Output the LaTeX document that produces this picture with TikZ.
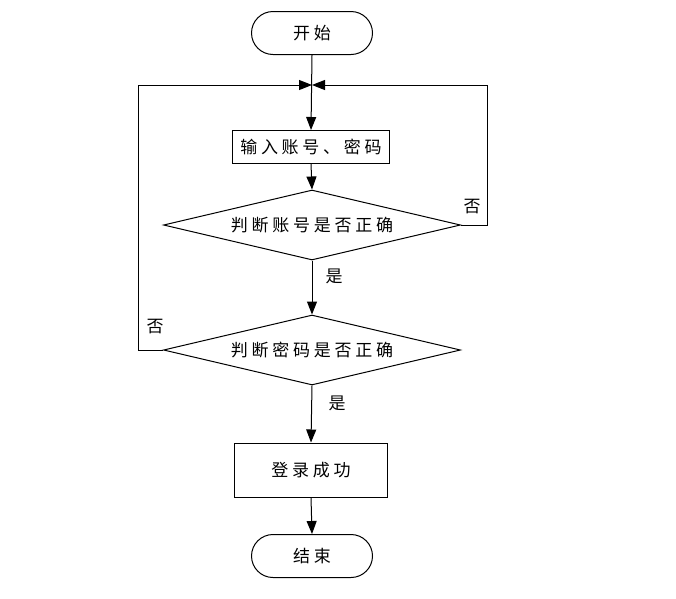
\documentclass[tikz,border=0pt]{standalone}
\usepackage{fontspec}
\setmainfont{Noto Sans CJK SC}[LetterSpace=22]
\usetikzlibrary{shapes.geometric,shapes.misc,arrows.meta}
\tikzset{
  base/.style={draw=black, line width=1pt, font=\fontsize{17}{20}\selectfont, inner sep=0pt},
  term/.style={base, rounded rectangle, minimum width=121pt, minimum height=43pt},
  proc/.style={base, rectangle, minimum width=157pt, minimum height=33pt},
  proc2/.style={base, rectangle, minimum width=153pt, minimum height=54pt},
  dec/.style={base, diamond, aspect=4.24, minimum width=297pt, minimum height=70pt},
  lbl/.style={font=\fontsize{17}{20}\selectfont, inner sep=0pt},
  conn/.style={line width=1pt, -{Triangle[length=13pt,width=10pt]}},
  line/.style={line width=1pt}
}
\begin{document}
\begin{tikzpicture}[x=1pt,y=-1pt]
\useasboundingbox (0,0) rectangle (676,598);
\node[term] (start) at (312,33) {开始};
\node[proc] (input) at (311,147) {输入账号、密码};
\node[dec] (d1) at (312,225) {判断账号是否正确};
\node[dec] (d2) at (312,350) {判断密码是否正确};
\node[proc2] (ok) at (311,470) {登录成功};
\node[term] (end) at (312,556) {结束};
\coordinate (j) at (312,85);
\coordinate (lt) at (138,85);
\coordinate (lb) at (138,350);
\coordinate (rt) at (487,85);
\coordinate (rb) at (487,225);
\draw[conn] (start.south) -- (input.north);
\draw[conn] (input.south) -- (d1.north);
\draw[conn] (d1.south) -- (d2.north);
\draw[conn] (d2.south) -- (ok.north);
\draw[conn] (ok.south) -- (end.north);
\draw[conn] (d2.west) -- (lb) -- (lt) -- (j);
\draw[conn] (d1.east) -- (rb) -- (rt) -- (j);
\node[lbl] (yes1) at (334,276) {是};
\node[lbl] (yes2) at (337,403) {是};
\node[lbl] (no1) at (472,207) {否};
\node[lbl] (no2) at (155,327) {否};
\end{tikzpicture}
\end{document}
